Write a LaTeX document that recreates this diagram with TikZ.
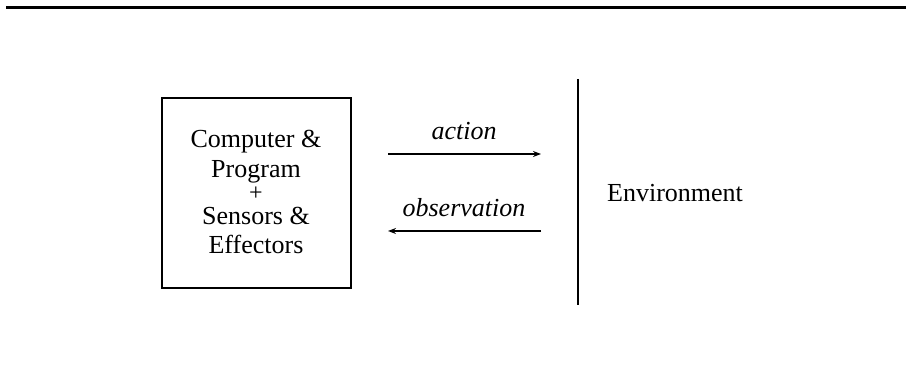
\documentclass[tikz,border=0pt]{standalone}
\usepackage{fontspec}
\setmainfont{Liberation Serif}
\usetikzlibrary{arrows.meta}
\begin{document}
\begin{tikzpicture}[x=1pt,y=-1pt,
  lbl/.style={font=\fontsize{26}{29}\selectfont, inner sep=0pt, anchor=base},
  ilbl/.style={lbl, font=\fontsize{26}{29}\selectfont\itshape},
  conn/.style={line width=2pt, -{Stealth[length=8pt,width=6pt]}},
  rule/.style={line width=3pt},
  edge line/.style={line width=2.2pt}]
  \useasboundingbox (0,0) rectangle (906,366);
  % top rule
  \coordinate (r1) at (6,7.2);
  \coordinate (r2) at (906,7.2);
  \draw[rule] (r1) -- (r2);
  % agent box
  \node[draw, edge line, minimum width=189pt, minimum height=190pt, inner sep=0pt] (agent) at (256.5,193) {};
  \node[lbl] (l1) at (256,148) {Computer \&};
  \node[lbl] (l2) at (256,178) {Program};
  \node[lbl, font=\fontsize{24}{26}\selectfont] (l3) at (256,201) {+};
  \node[lbl] (l4) at (256,225) {Sensors \&};
  \node[lbl] (l5) at (256,254) {Effectors};
  % environment boundary
  \coordinate (e1) at (578,79);
  \coordinate (e2) at (578,305);
  \draw[edge line] (e1) -- (e2);
  \node[lbl, anchor=base west] (env) at (607,202) {Environment};
  % action / observation arrows
  \coordinate (a1) at (388,154);
  \coordinate (a2) at (541,154);
  \coordinate (o1) at (541,231);
  \coordinate (o2) at (388,231);
  \draw[conn] (a1) -- (a2);
  \draw[conn] (o1) -- (o2);
  \node[ilbl] (act) at (464,140) {action};
  \node[ilbl] (obs) at (464,217) {observation};
\end{tikzpicture}
\end{document}
